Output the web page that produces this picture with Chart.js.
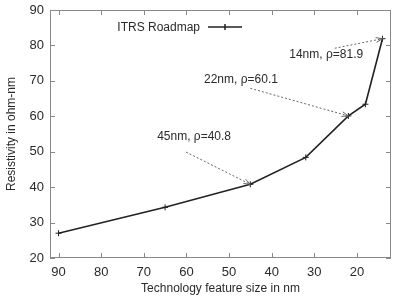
<!DOCTYPE html>
<html lang="en">
<head>
  <meta charset="UTF-8" />
  <title>ITRS Roadmap resistivity</title>
  <script src="https://cdn.jsdelivr.net/npm/chart.js"></script>
  <style>
    html, body { margin: 0; padding: 0; background: #fff; }
    #wrap { width: 396px; height: 300px; }
  </style>
</head>
<body>
  <div id="wrap"><canvas id="chart"></canvas></div>

  <script>
    // data
    const featureSize = [90, 65, 45, 32, 22, 18, 14];
    const resistivity = [27, 34.3, 40.8, 48.4, 60.1, 63.4, 81.9];
    const xTicks = [90, 80, 70, 60, 50, 40, 30, 20];
    const yTicks = [20, 30, 40, 50, 60, 70, 80, 90];
    const seriesLabel = 'ITRS Roadmap';

    // callouts: point index, text centre and arrow start (in data units)
    const callouts = [
      { index: 2, textAt: [58.2, 54.2], from: [60.1, 49.9] },
      { index: 4, textAt: [47.2, 70.2], from: [45.0, 67.9] },
      { index: 6, textAt: [27.2, 77.3], from: [25.2, 79.2] }
    ];

    const textColor = '#2a2a2a';
    const font = '"Liberation Sans", Arial, sans-serif';

    function arrow(ctx, x0, y0, x1, y1) {
      ctx.save();
      ctx.setLineDash([2, 2]);
      ctx.beginPath();
      ctx.moveTo(x0, y0);
      ctx.lineTo(x1, y1);
      ctx.stroke();
      ctx.setLineDash([]);
      const ang = Math.atan2(y1 - y0, x1 - x0);
      const len = 7, spread = 0.35;
      ctx.beginPath();
      ctx.moveTo(x1 - len * Math.cos(ang - spread), y1 - len * Math.sin(ang - spread));
      ctx.lineTo(x1, y1);
      ctx.lineTo(x1 - len * Math.cos(ang + spread), y1 - len * Math.sin(ang + spread));
      ctx.stroke();
      ctx.restore();
    }

    const framePlugin = {
      id: 'frame',
      afterDatasetsDraw(chart) {
        const { ctx, chartArea: a, scales: { x, y } } = chart;
        ctx.save();

        // box + inward ticks on all sides (gnuplot style)
        ctx.strokeStyle = '#888';
        ctx.lineWidth = 1;
        ctx.strokeRect(a.left + 0.5, a.top + 0.5, a.width - 1, a.height - 1);
        ctx.beginPath();
        xTicks.forEach(v => {
          const px = Math.round(x.getPixelForValue(v)) + 0.5;
          ctx.moveTo(px, a.bottom); ctx.lineTo(px, a.bottom - 5);
          ctx.moveTo(px, a.top); ctx.lineTo(px, a.top + 5);
        });
        yTicks.forEach(v => {
          const py = Math.round(y.getPixelForValue(v)) + 0.5;
          ctx.moveTo(a.left, py); ctx.lineTo(a.left + 5, py);
          ctx.moveTo(a.right, py); ctx.lineTo(a.right - 5, py);
        });
        ctx.stroke();

        // legend, sample to the right of the text
        ctx.font = '12px ' + font;
        ctx.fillStyle = textColor;
        ctx.textAlign = 'right';
        ctx.textBaseline = 'middle';
        const lx = a.left + 150, ly = a.top + 18;
        ctx.fillText(seriesLabel, lx, ly);
        ctx.strokeStyle = '#222';
        ctx.lineWidth = 1.5;
        ctx.beginPath();
        ctx.moveTo(lx + 8, ly - 1); ctx.lineTo(lx + 42, ly - 1);
        ctx.moveTo(lx + 25, ly - 4); ctx.lineTo(lx + 25, ly + 2);
        ctx.stroke();

        // callouts
        ctx.textAlign = 'center';
        ctx.strokeStyle = '#666';
        ctx.lineWidth = 1;
        callouts.forEach(c => {
          const fx = featureSize[c.index], rv = resistivity[c.index];
          ctx.fillText(fx + 'nm, \u03c1=' + rv, x.getPixelForValue(c.textAt[0]), y.getPixelForValue(c.textAt[1]));
          arrow(ctx,
            x.getPixelForValue(c.from[0]), y.getPixelForValue(c.from[1]),
            x.getPixelForValue(fx), y.getPixelForValue(rv));
        });
        ctx.restore();
      }
    };

    new Chart(document.getElementById('chart'), {
      type: 'line',
      data: {
        datasets: [{
          label: seriesLabel,
          data: featureSize.map((v, i) => ({ x: v, y: resistivity[i] })),
          borderColor: '#222',
          borderWidth: 1.6,
          pointStyle: 'cross',
          pointRadius: 3,
          pointBorderColor: '#222',
          pointBorderWidth: 1,
          tension: 0
        }]
      },
      plugins: [framePlugin],
      options: {
        responsive: true,
        maintainAspectRatio: false,
        animation: false,
        layout: { padding: { top: 10, right: 2, left: 0, bottom: 0 } },
        plugins: { legend: { display: false }, tooltip: { enabled: false } },
        scales: {
          x: {
            type: 'linear',
            reverse: true,
            min: 12,
            max: 92,
            afterBuildTicks: s => { s.ticks = xTicks.map(v => ({ value: v })); },
            afterFit: s => { s.height = 42; s.paddingLeft = 0; s.paddingRight = 0; },
            grid: { display: false, drawTicks: false },
            border: { display: false },
            ticks: { color: textColor, font: { family: font, size: 13 }, padding: 7, maxRotation: 0 },
            title: { display: true, text: 'Technology feature size in nm', color: textColor,
                     font: { family: font, size: 12 }, padding: { top: 4, bottom: 4 } }
          },
          y: {
            min: 20,
            max: 90,
            afterBuildTicks: s => { s.ticks = yTicks.map(v => ({ value: v })); },
            afterFit: s => { s.width = 50; s.paddingTop = 0; s.paddingBottom = 0; },
            grid: { display: false, drawTicks: false },
            border: { display: false },
            ticks: { color: textColor, font: { family: font, size: 13 }, padding: 6 },
            title: { display: true, text: 'Resistivity in ohm-nm', color: textColor,
                     font: { family: font, size: 12 }, padding: { top: 4, bottom: 4 } }
          }
        }
      }
    });
  </script>
</body>
</html>
